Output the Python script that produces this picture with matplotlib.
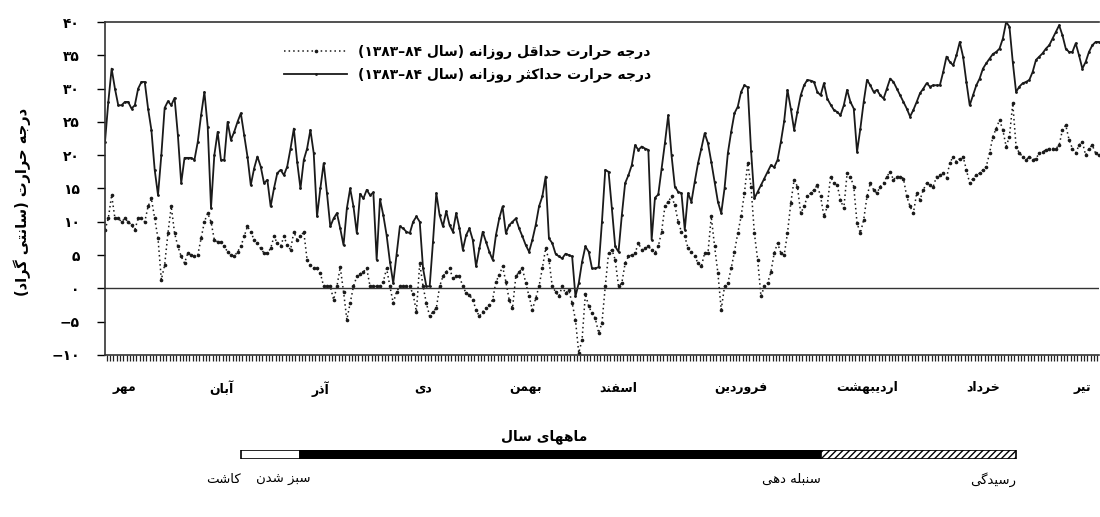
import re
import numpy as np
import matplotlib
matplotlib.use('Agg')
import matplotlib.pyplot as plt
from matplotlib.lines import Line2D
from matplotlib.transforms import blended_transform_factory, offset_copy

plt.rcParams['font.family'] = ['DejaVu Sans']

# daily max / min temperature, starting 1 Mehr 1383 (deg C)
tmax = [22, 28, 33, 30, 27.5, 27.5, 28, 28, 27, 27.5,
        30, 31, 31, 27, 23.8, 17.8, 14, 20, 27.1, 28.1,
        27.5, 28.6, 23, 15.8, 19.6, 19.6, 19.6, 19.3, 22, 26,
        29.5, 24.3, 12.1, 20, 23.5, 19.3, 19.3, 25, 22.3, 23.5,
        25, 26.3, 23, 19.8, 15.5, 18, 19.8, 18.3, 15.8, 16.3,
        12.3, 15, 17.3, 17.8, 17, 18.3, 21, 24, 19, 15,
        19.3, 21, 23.8, 20.3, 10.8, 15, 18.8, 14.3, 9.3, 10.5,
        11.3, 9, 6.5, 12, 15, 12.3, 8.3, 14.2, 13.5, 14.8,
        14, 14.4, 4.3, 13.4, 11, 8, 4, 0.8, 5, 9.3,
        9, 8.5, 8.3, 10, 10.8, 10, 3, 0.3, 0.3, 7,
        14.3, 11, 9.3, 11.6, 9.5, 8.5, 11.3, 9, 5.8, 8,
        9, 7.3, 3.3, 6, 8.5, 7, 5.5, 4.3, 8, 10.5,
        12.3, 8.3, 9.5, 10, 10.5, 9, 7.8, 6.5, 5.5, 7.3,
        9.5, 12.3, 13.8, 16.8, 7.5, 6.8, 5.2, 4.8, 4.5, 5.2,
        5, 4.8, -1.2, 0.8, 4, 6.3, 5.5, 3, 3, 3.2,
        10, 17.8, 17.5, 12, 6.3, 5.5, 11, 15.8, 17, 18.5,
        21.5, 20.8, 21.3, 21, 20.8, 7.3, 13.6, 14.1, 18, 21.8,
        26, 20, 15.3, 14.5, 14.3, 8.8, 14.3, 13, 16, 18.8,
        21, 23.3, 21.8, 19, 16, 13, 11.3, 15, 20.3, 23.5,
        26.3, 27.3, 29.5, 30.5, 30.2, 20.7, 13.5, 14.5, 15.5, 16.5,
        17.5, 18.5, 18.2, 19.3, 22, 25.1, 29.8, 27, 23.8, 26.5,
        29, 30.5, 31.3, 31.2, 31, 29.5, 29, 30.8, 28.5, 27.6,
        26.8, 26.5, 26, 27.5, 29.8, 28, 27, 20.5, 24, 28,
        31.3, 30.5, 29.5, 29.8, 29, 28.5, 30, 31.5, 31, 30,
        29, 28, 27, 25.8, 26.8, 28, 29.3, 30, 30.8, 30.3,
        30.5, 30.5, 30.5, 32.5, 34.8, 34, 33.5, 35, 37, 34.8,
        31, 27.5, 29, 30.5, 31.5, 33, 33.8, 34.5, 35.2, 35.5,
        36, 37.5, 40, 39.3, 34, 29.5, 30.3, 30.8, 31, 31.3,
        32.5, 34.3, 34.8, 35.3, 36, 36.5, 37.5, 38.5, 39.5, 38,
        36, 35.5, 35.5, 36.8, 35, 33, 34, 35.5, 36.5, 37,
        37]

tmin = [8.8, 10.5, 14, 10.5, 10.5, 10, 10.5, 10, 9.5, 8.8,
        10.5, 10.5, 10, 12.3, 13.5, 10.5, 7.5, 1.3, 3.5, 8.3,
        12.3, 8.3, 6.3, 4.8, 3.8, 5.3, 5, 4.8, 5, 7.5,
        10, 11.3, 10, 7.3, 7, 7, 6.3, 5.5, 5, 4.8,
        5.5, 6.3, 7.8, 9.3, 8.5, 7.3, 6.8, 6, 5.3, 5.3,
        6, 7.8, 6.8, 6.3, 7.8, 6.5, 5.8, 8.5, 7.3, 7.8,
        8.5, 4.3, 3.5, 3, 3, 2.3, 0.3, 0.3, 0.3, -1.7,
        0.3, 3.2, -0.5, -4.7, -2.2, 0.3, 1.8, 2.2, 2.5, 3,
        0.3, 0.3, 0.3, 0.3, 1, 3, 0.3, -2.2, -0.5, 0.3,
        0.3, 0.3, 0.3, -0.9, -3.5, 3.8, 0.3, -2.2, -4.2, -3.5,
        -3, 0.3, 1.8, 2.5, 3, 1.5, 1.8, 1.8, 0.3, -0.7,
        -1, -1.7, -3.2, -4.2, -3.5, -3, -2.5, -1.7, 1, 2,
        3.3, 1, -1.7, -3, 1.8, 2.5, 3, 0.8, -1.2, -3.2,
        -1.5, 0.3, 3, 6, 4.3, 0.3, -0.5, -1.2, 0.3, -0.7,
        -0.3, -2.2, -4.7, -9.7, -7.7, -0.8, -2.7, -3.7, -4.5, -6.7,
        -5.2, 0.3, 5.3, 5.8, 4.3, 0.3, 0.8, 3.8, 4.8, 5,
        5.3, 6.8, 5.8, 6, 6.3, 5.8, 5.3, 6.3, 8.5, 12.3,
        13, 13.8, 12.5, 10, 8.5, 7.8, 6, 5.5, 4.8, 3.8,
        3.3, 5.3, 5.3, 10.8, 6.3, 2.3, -3.2, 0.3, 0.8, 3,
        5.5, 8.3, 10.8, 14.3, 18.8, 15.3, 8.3, 4.3, -1.2, 0.3,
        0.8, 2.5, 5.3, 6.8, 5.3, 5, 8.3, 12.8, 16.3, 15.3,
        11.3, 12.3, 13.8, 14.3, 14.8, 15.5, 13.8, 10.8, 12.3, 16.8,
        15.8, 15.5, 13.3, 12, 17.3, 16.8, 15.3, 9.8, 8.3, 10.3,
        13.8, 15.8, 14.8, 14.3, 15.3, 15.8, 16.8, 17.5, 16.3, 16.8,
        16.8, 16.5, 13.8, 12.3, 11.3, 14.3, 13.3, 14.8, 15.8, 15.5,
        15.3, 16.8, 17, 17.3, 16.6, 18.8, 19.8, 19, 19.5, 19.8,
        17.8, 15.8, 16.5, 17, 17.3, 17.8, 18.3, 20.3, 22.8, 24,
        25.3, 23.8, 21.3, 22.8, 27.8, 21.3, 20.3, 19.8, 19.3, 19.8,
        19.3, 19.5, 20.3, 20.5, 20.8, 21, 21, 21, 21.5, 23.8,
        24.5, 22.3, 21, 20.3, 21.5, 22, 20, 21, 21.5, 20.3,
        20]

months = ['مهر', 'آبان', 'آذر', 'دی', 'بهمن', 'اسفند',
          'فروردین', 'اردیبهشت', 'خرداد', 'تیر']
month_pos = [6, 35, 65, 96, 127, 155, 192, 230, 265, 295]

yticks = [-10, -5, 0, 5, 10, 15, 20, 25, 30, 35, 40]

stages = ['کاشت', 'سبز شدن', 'سنبله دهی', 'رسیدگی']
stage_days = [41, 59, 216, 275]

label_min = 'درجه حرارت حداقل روزانه (سال ۸۴–۱۳۸۳)'
label_max = 'درجه حرارت حداکثر روزانه (سال ۸۴–۱۳۸۳)'
ylabel = 'درجه حرارت (سانتی گراد)'
xlabel = 'ماههای سال'

# contextual forms (isolated, final, initial, medial); no initial -> right-joining
FORMS = {
    'ا': (0xFE8D, 0xFE8E, None, None), 'آ': (0xFE81, 0xFE82, None, None),
    'د': (0xFEA9, 0xFEAA, None, None), 'ذ': (0xFEAB, 0xFEAC, None, None),
    'ر': (0xFEAD, 0xFEAE, None, None), 'ز': (0xFEAF, 0xFEB0, None, None),
    'و': (0xFEED, 0xFEEE, None, None),
    'ب': (0xFE8F, 0xFE90, 0xFE91, 0xFE92), 'ت': (0xFE95, 0xFE96, 0xFE97, 0xFE98),
    'ث': (0xFE99, 0xFE9A, 0xFE9B, 0xFE9C), 'ج': (0xFE9D, 0xFE9E, 0xFE9F, 0xFEA0),
    'ح': (0xFEA1, 0xFEA2, 0xFEA3, 0xFEA4), 'خ': (0xFEA5, 0xFEA6, 0xFEA7, 0xFEA8),
    'س': (0xFEB1, 0xFEB2, 0xFEB3, 0xFEB4), 'ش': (0xFEB5, 0xFEB6, 0xFEB7, 0xFEB8),
    'ف': (0xFED1, 0xFED2, 0xFED3, 0xFED4), 'ق': (0xFED5, 0xFED6, 0xFED7, 0xFED8),
    'ل': (0xFEDD, 0xFEDE, 0xFEDF, 0xFEE0), 'م': (0xFEE1, 0xFEE2, 0xFEE3, 0xFEE4),
    'ن': (0xFEE5, 0xFEE6, 0xFEE7, 0xFEE8), 'ه': (0xFEE9, 0xFEEA, 0xFEEB, 0xFEEC),
    'ک': (0xFB8E, 0xFB8F, 0xFB90, 0xFB91), 'گ': (0xFB92, 0xFB93, 0xFB94, 0xFB95),
    'ی': (0xFBFC, 0xFBFD, 0xFBFE, 0xFBFF),
}


def fa(text):
    # crude persian shaping + right-to-left ordering (no bidi lib available)
    out = []
    for i, ch in enumerate(text):
        f = FORMS.get(ch)
        if f is None:
            out.append(ch)
            continue
        prev = text[i - 1] if i > 0 else ''
        nxt = text[i + 1] if i + 1 < len(text) else ''
        jp = prev in FORMS and FORMS[prev][2] is not None
        jn = nxt in FORMS and f[2] is not None
        if jp and jn:
            code = f[3]
        elif jn:
            code = f[2]
        elif jp:
            code = f[1]
        else:
            code = f[0]
        out.append(chr(code))
    s = ''.join(out)[::-1]
    s = re.sub('[۰-۹]+', lambda m: m.group(0)[::-1], s)
    return s.translate(str.maketrans('()', ')('))


def fa_num(v):
    s = str(abs(v)).translate(str.maketrans('0123456789', '۰۱۲۳۴۵۶۷۸۹'))
    return ('−' if v < 0 else '') + s


days = np.arange(len(tmax))

fig = plt.figure(figsize=(11, 5.17), dpi=100)
ax = fig.add_axes([105 / 1100, 1 - 355 / 517, 995 / 1100 - 0.001, 333 / 517])

ax.plot(days, tmax, color='#1a1a1a', lw=1.3, marker='.', ms=2)
ax.plot(days, tmin, color='#1a1a1a', lw=1.1, ls=(0, (1, 2)), marker='.', ms=3.2)
ax.axhline(0, color='#333333', lw=1)

ax.set_xlim(0, 300)
ax.set_ylim(-10, 40)
ax.set_yticks(yticks)
ax.set_yticklabels([fa_num(v) for v in yticks], fontsize=10, fontweight='bold')
ax.tick_params(axis='y', direction='out', length=6, width=1, pad=12)

ax.set_xticks(month_pos)
ax.set_xticklabels([fa(m) for m in months], fontsize=9, fontweight='bold')
ax.tick_params(axis='x', which='major', length=0, pad=19)

# one small tick per day under the axis
tick_tr = blended_transform_factory(ax.transData, ax.transAxes)
ax.vlines(days[:-1] + 0.5, -0.018, 0, transform=tick_tr, colors='#222222',
          lw=0.9, clip_on=False)

ax.spines['right'].set_visible(False)
for sp in ['left', 'top', 'bottom']:
    ax.spines[sp].set_linewidth(1.2)
    ax.spines[sp].set_color('#333333')

handles = [Line2D([], [], color='#1a1a1a', lw=1.1, ls=(0, (1, 2)), marker='.', ms=3.2),
           Line2D([], [], color='#1a1a1a', lw=1.3, marker='.', ms=2)]
leg = ax.legend(handles, [fa(label_min), fa(label_max)], loc='upper left',
                bbox_to_anchor=(0.168, 0.97), frameon=False, handlelength=4.5,
                numpoints=1, labelspacing=0.6, prop={'size': 10, 'weight': 'bold'})

fig.text(0.02, 0.61, fa(ylabel), rotation=90, ha='center', va='center',
         fontsize=10.5, fontweight='bold')
fig.text(0.495, 1 - 437 / 517, fa(xlabel), ha='center', va='center',
         fontsize=10, fontweight='bold')

# growth stage bar on the same day axis
bx = fig.add_axes([105 / 1100, 1 - 459 / 517, 995 / 1100 - 0.001, 9 / 517])
fills = ['white', 'black', 'white']
hatches = [None, None, '/////']
for i in range(len(stage_days) - 1):
    bx.barh(0, stage_days[i + 1] - stage_days[i], left=stage_days[i], height=1,
            color=fills[i], edgecolor='black', hatch=hatches[i], lw=1.2)
bx.set_xlim(0, 300)
bx.set_ylim(-0.5, 0.5)
bx.axis('off')

tr = blended_transform_factory(bx.transData, bx.transAxes)
nudge = [0, 7, 0, 0]  # label shift in points
for d, s, n in zip(stage_days, stages, nudge):
    bx.text(d, -2.3, fa(s), transform=offset_copy(tr, fig=fig, x=n, units='points'),
            ha='right', va='center', fontsize=9.5)

fig.savefig('out.png', dpi=100)
